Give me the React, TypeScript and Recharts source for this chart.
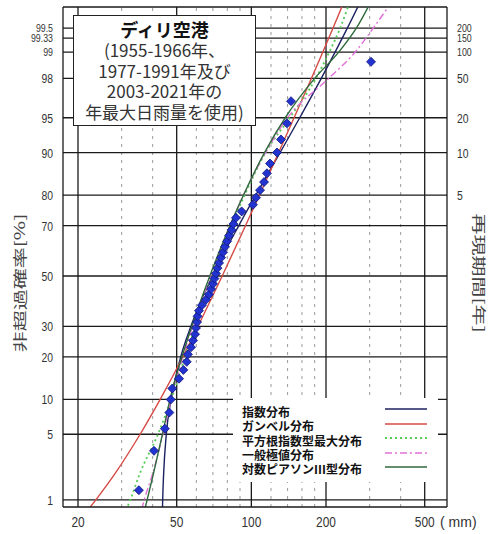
import React from 'react';
import { ComposedChart, Line, Scatter, XAxis, YAxis, ReferenceLine } from 'recharts';

// ---------- data ----------
const probTicks = [1, 5, 10, 20, 30, 50, 70, 80, 90, 95, 98, 99, 99.33, 99.5];
const probTickLabels = ['1', '5', '10', '20', '30', '50', '70', '80', '90', '95', '98', '99', '99.33', '99.5'];
const returnTickPct = [80, 90, 95, 98, 99, 99.33, 99.5];
const returnTickLabels = ['5', '10', '20', '50', '100', '150', '200'];
const xMajorTicks = [20, 50, 100, 200, 500];
const xMinorGrid = [30, 40, 60, 70, 80, 90, 120, 140, 160, 180, 300, 400];

// observed annual maximum daily rainfall (mm) and plotting position (%)
const obsRain = [35.2, 40.5, 44.8, 46.7, 47.3, 48.0, 51.1, 53.2, 54.9, 55.5, 57.1, 58.2, 59.3, 59.8, 60.4, 60.7,
  61.5, 63.2, 65.6, 67.5, 68.8, 70.1, 71.0, 72.0, 73.0, 74.1, 75.5, 76.9, 78.3, 79.8, 81.3, 83.2, 84.7, 86.7,
  91.4, 101.5, 104.4, 108.4, 112.5, 115.6, 118.9, 126.9, 131.7, 139.2, 144.5, 303.8];
const obsPct = [1.30, 3.46, 5.63, 7.79, 9.96, 12.12, 14.29, 16.45, 18.61, 20.78, 22.94, 25.11, 27.27, 29.44,
  31.60, 33.77, 35.93, 38.10, 40.26, 42.42, 44.59, 46.75, 48.92, 51.08, 53.25, 55.41, 57.58, 59.74, 61.90,
  64.07, 66.23, 68.40, 70.56, 72.73, 74.89, 77.06, 79.22, 81.39, 83.55, 85.71, 87.88, 90.04, 92.21, 94.37,
  96.54, 98.70];

// fitted distributions: rainfall (mm) at non-exceedance probabilities (%)
const fitPct = [0.5, 1, 2, 5, 10, 20, 30, 50, 70, 80, 90, 95, 98, 99, 99.5, 99.85];
const expRain = [43.7, 43.9, 44.3, 45.4, 47.5, 51.9, 57.0, 69.7, 89.0, 104.3, 130.5, 156.7, 191.4, 217.6, 243.8, 289.3];
const gumbelRain = [19.8, 23.6, 28.2, 35.6, 42.9, 52.9, 60.9, 76.3, 94.8, 107.8, 128.7, 148.7, 174.6, 194.0, 213.3, 246.9];
const sqrtExpRain = [29.5, 32.5, 35.5, 42.0, 47.5, 54.0, 59.5, 69.5, 83.0, 94.0, 114.0, 143.0, 182.0, 206.0, 228.0, 258.0];
const gevRain = [35.0, 37.0, 40.0, 44.0, 47.5, 53.0, 58.0, 68.5, 82.0, 93.0, 114.0, 140.0, 205.0, 262.0, 310.0, 395.0];
const lp3Rain = [36.0, 38.0, 40.3, 43.8, 47.0, 52.5, 57.5, 68.0, 82.0, 93.0, 113.0, 137.0, 180.0, 225.0, 265.0, 320.0];

const seriesNames = ['指数分布', 'ガンベル分布', '平方根指数型最大分布', '一般極値分布', '対数ピアソンIII型分布'];

// ---------- helpers ----------
function normInv(p: number): number {
  const a = [-3.969683028665376e1, 2.209460984245205e2, -2.759285104469687e2, 1.38357751867269e2, -3.066479806614716e1, 2.506628277459239];
  const b = [-5.447609879822406e1, 1.615858368580409e2, -1.556989798598866e2, 6.680131188771972e1, -1.328068155288572e1];
  const c = [-7.784894002430293e-3, -3.223964580411365e-1, -2.400758277161838, -2.549732539343734, 4.374664141464968, 2.938163982698783];
  const d = [7.784695709041462e-3, 3.224671290700398e-1, 2.445134137142996, 3.754408661907416];
  const pl = 0.02425;
  if (p < pl) {
    const q = Math.sqrt(-2 * Math.log(p));
    return (((((c[0] * q + c[1]) * q + c[2]) * q + c[3]) * q + c[4]) * q + c[5]) / ((((d[0] * q + d[1]) * q + d[2]) * q + d[3]) * q + 1);
  }
  if (p > 1 - pl) {
    const q = Math.sqrt(-2 * Math.log(1 - p));
    return -(((((c[0] * q + c[1]) * q + c[2]) * q + c[3]) * q + c[4]) * q + c[5]) / ((((d[0] * q + d[1]) * q + d[2]) * q + d[3]) * q + 1);
  }
  const q = p - 0.5;
  const r = q * q;
  return ((((((a[0] * r + a[1]) * r + a[2]) * r + a[3]) * r + a[4]) * r + a[5]) * q) / (((((b[0] * r + b[1]) * r + b[2]) * r + b[3]) * r + b[4]) * r + 1);
}

const W = 496;
const H = 534;
const Z_MIN = -2.401;
const Z_MAX = 2.796;
const X_MIN = 17.4;
const X_MAX = 615;

const zOf = (pct: number) => normInv(pct / 100);
const probZ = probTicks.map(zOf);
const returnZ = returnTickPct.map(zOf);

const toPts = (mm: number[]) => mm.map((v, i) => ({ x: v, z: zOf(fitPct[i]) }));
const obsData = obsRain.map((v, i) => ({ x: v, z: zOf(obsPct[i]) }));

const lineStyles = [
  { color: '#1c2160', dash: undefined as string | undefined, width: 1.4 },
  { color: '#d64a45', dash: undefined, width: 1.4 },
  { color: '#55cc55', dash: '2 3', width: 1.8 },
  { color: '#e070d8', dash: '7 3 2 3', width: 1.4 },
  { color: '#2f6a3c', dash: undefined, width: 1.4 },
];
const fitSets = [expRain, gumbelRain, sqrtExpRain, gevRain, lp3Rain];

const tickFont = '"Liberation Sans", Arial, sans-serif';
const cjkFont = '"Noto Sans CJK JP", "Noto Sans", sans-serif';

const findIdx = (arr: number[], v: number) => arr.findIndex((z) => Math.abs(z - v) < 1e-6);

const LeftTick = (props: any) => {
  const { y, payload } = props;
  const i = findIdx(probZ, payload.value);
  if (i < 0) return null;
  const small = probTicks[i] > 98.5;
  return (
    <text transform={`translate(53, ${y}) scale(0.8,1)`} textAnchor="end" dominantBaseline="central"
      fontSize={small ? 11 : 13} fill="#333" fontFamily={tickFont}>{probTickLabels[i]}</text>
  );
};

const RightTick = (props: any) => {
  const { y, payload } = props;
  const i = findIdx(returnZ, payload.value);
  if (i < 0) return null;
  const small = returnTickPct[i] > 98.5;
  return (
    <text transform={`translate(457, ${y}) scale(0.8,1)`} textAnchor="start" dominantBaseline="central"
      fontSize={small ? 11 : 13} fill="#333" fontFamily={tickFont}>{returnTickLabels[i]}</text>
  );
};

const XTick = (props: any) => {
  const { x, payload } = props;
  const v = payload.value;
  return (
    <g>
      <text transform={`translate(${x}, 522) scale(0.85,1)`} textAnchor="middle" dominantBaseline="central"
        fontSize={14} fill="#333" fontFamily={tickFont}>{String(v)}</text>
      {v === 500 ? (
        <text x={440} y={522} dominantBaseline="central" fontSize={14} fill="#333" fontFamily={tickFont}>( mm)</text>
      ) : null}
    </g>
  );
};

const Diamond = (props: any) => {
  const { cx, cy } = props;
  if (cx == null || cy == null) return null;
  const r = 4.5;
  return (
    <polygon points={`${cx},${cy - r} ${cx + r},${cy} ${cx},${cy + r} ${cx - r},${cy}`}
      fill="#2233d0" stroke="#10157a" strokeWidth={0.8} />
  );
};

export default function App() {
  return (
    <div style={{ position: 'absolute', left: 0, top: 0, width: W, height: H, background: '#fff' }}>
      <ComposedChart width={W} height={H} margin={{ top: 7, right: 0, bottom: 0, left: 0 }}>
        <XAxis type="number" dataKey="x" scale="log" domain={[X_MIN, X_MAX]} allowDataOverflow
          ticks={xMajorTicks} interval={0} height={27} tick={(p: any) => <XTick {...p} />}
          tickLine={false} axisLine={{ stroke: '#1a1a1a', strokeWidth: 1.3 }} />
        <YAxis yAxisId="p" type="number" dataKey="z" domain={[Z_MIN, Z_MAX]} allowDataOverflow
          ticks={probZ} interval={0} width={63} tick={(p: any) => <LeftTick {...p} />}
          tickLine={false} axisLine={{ stroke: '#1a1a1a', strokeWidth: 1.3 }} />
        <YAxis yAxisId="r" orientation="right" type="number" dataKey="z" domain={[Z_MIN, Z_MAX]} allowDataOverflow
          ticks={returnZ} interval={0} width={49} tick={(p: any) => <RightTick {...p} />}
          tickLine={false} axisLine={{ stroke: '#1a1a1a', strokeWidth: 1.3 }} />

        {xMinorGrid.map((v) => (
          <ReferenceLine key={'mx' + v} yAxisId="p" x={v} stroke="#9a9a9a" strokeWidth={1} strokeDasharray="3 5" zIndex={-20} />
        ))}
        {xMajorTicks.map((v) => (
          <ReferenceLine key={'Mx' + v} yAxisId="p" x={v} stroke="#1a1a1a" strokeWidth={1.3} zIndex={-10} />
        ))}
        {probZ.map((z, i) => (
          <ReferenceLine key={'hy' + i} yAxisId="p" y={z} stroke="#1a1a1a" strokeWidth={1.3} zIndex={-10} />
        ))}
        <ReferenceLine yAxisId="p" y={Z_MAX} stroke="#1a1a1a" strokeWidth={1.3} zIndex={-10} />

        {fitSets.map((set, i) => (
          <Line key={'fit' + i} yAxisId="p" data={toPts(set)} dataKey="z" type="monotone" dot={false}
            stroke={lineStyles[i].color} strokeWidth={lineStyles[i].width} strokeDasharray={lineStyles[i].dash}
            isAnimationActive={false} name={seriesNames[i]} />
        ))}
        <Scatter yAxisId="p" data={obsData} dataKey="z" shape={(p: any) => <Diamond {...p} />} isAnimationActive={false} />
      </ComposedChart>

      {/* title box */}
      <div style={{
        position: 'absolute', left: 73, top: 15, width: 181, height: 109, border: '1px solid #222', background: '#fff',
        fontFamily: cjkFont, textAlign: 'center', color: '#333',
      }}>
        <div style={{ fontSize: 18, fontWeight: 'bold', color: '#111', lineHeight: '22px', marginTop: 2 }}>ディリ空港</div>
        <div style={{ fontSize: 17, lineHeight: '20.5px' }}>(1955-1966年、</div>
        <div style={{ fontSize: 17, lineHeight: '20.5px' }}>1977-1991年及び</div>
        <div style={{ fontSize: 17, lineHeight: '20.5px' }}>2003-2021年の</div>
        <div style={{ fontSize: 17, lineHeight: '20.5px', whiteSpace: 'nowrap' }}>年最大日雨量を使用)</div>
      </div>

      {/* legend box */}
      <div style={{ position: 'absolute', left: 233, top: 398, width: 205, height: 84, background: '#fff' }}>
        {seriesNames.map((n, i) => (
          <React.Fragment key={n}>
            <div style={{
              position: 'absolute', left: 9, top: 7 + i * 14.3, fontFamily: cjkFont, fontSize: 12, fontWeight: 'bold',
              lineHeight: '14px', color: '#111', whiteSpace: 'nowrap',
            }}>{n}</div>
            <svg style={{ position: 'absolute', left: 152, top: 7 + i * 14.6 - 1, width: 44, height: 10 }}>
              <line x1={0} y1={5} x2={42} y2={5} stroke={lineStyles[i].color} strokeWidth={i === 2 ? 2 : 1.6}
                strokeDasharray={lineStyles[i].dash} />
            </svg>
          </React.Fragment>
        ))}
      </div>

      {/* axis titles */}
      <svg style={{ position: 'absolute', left: 0, top: 0, width: W, height: H, pointerEvents: 'none' }}>
        <text transform="translate(18.5,283) rotate(-90) scale(1,0.66)" textAnchor="middle" dominantBaseline="central"
          fontSize={21} fill="#444" fontFamily={cjkFont}>非超過確率[%]</text>
        <text transform="translate(480,273) rotate(90) scale(1,0.66)" textAnchor="middle" dominantBaseline="central"
          fontSize={21} fill="#444" fontFamily={cjkFont}>再現期間[年]</text>
      </svg>
    </div>
  );
}
